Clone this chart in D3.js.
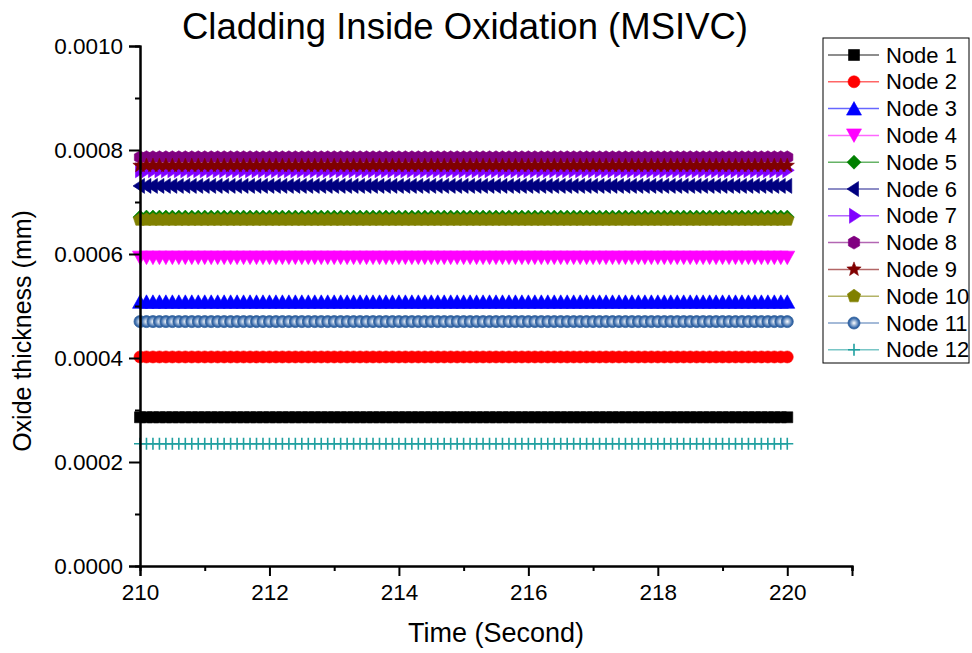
<!DOCTYPE html>
<html>
<head>
<meta charset="utf-8">
<script src="https://cdn.jsdelivr.net/npm/d3@7"></script>
<style>
  html, body { margin: 0; padding: 0; background: #fff; }
  svg { display: block; font-family: "Liberation Sans", Arial, sans-serif; }
</style>
</head>
<body>
<svg id="chart" width="972" height="653"></svg>
<script>
// Sample times (s)
const times = [
  210.0, 210.1, 210.2, 210.3, 210.4, 210.5, 210.6, 210.7, 210.8, 210.9,
  211.0, 211.1, 211.2, 211.3, 211.4, 211.5, 211.6, 211.7, 211.8, 211.9,
  212.0, 212.1, 212.2, 212.3, 212.4, 212.5, 212.6, 212.7, 212.8, 212.9,
  213.0, 213.1, 213.2, 213.3, 213.4, 213.5, 213.6, 213.7, 213.8, 213.9,
  214.0, 214.1, 214.2, 214.3, 214.4, 214.5, 214.6, 214.7, 214.8, 214.9,
  215.0, 215.1, 215.2, 215.3, 215.4, 215.5, 215.6, 215.7, 215.8, 215.9,
  216.0, 216.1, 216.2, 216.3, 216.4, 216.5, 216.6, 216.7, 216.8, 216.9,
  217.0, 217.1, 217.2, 217.3, 217.4, 217.5, 217.6, 217.7, 217.8, 217.9,
  218.0, 218.1, 218.2, 218.3, 218.4, 218.5, 218.6, 218.7, 218.8, 218.9,
  219.0, 219.1, 219.2, 219.3, 219.4, 219.5, 219.6, 219.7, 219.8, 219.9,
  220.0
];

// Node names and their inside oxide thickness (mm), flat over the interval
const nodes = ["Node 1", "Node 2", "Node 3", "Node 4", "Node 5", "Node 6",
               "Node 7", "Node 8", "Node 9", "Node 10", "Node 11", "Node 12"];
const thickness = [0.000286, 0.000402, 0.000508, 0.000593, 0.000671, 0.000731,
                   0.000761, 0.000786, 0.000770, 0.000666, 0.000470, 0.000235];

const colors = ["#000000", "#ff0000", "#0000ff", "#ff00ff", "#008000", "#000080",
                "#8000ff", "#800080", "#800000", "#808000", "#3366a8", "#20a0a0"];
const shapes = ["square", "circle", "triUp", "triDown", "diamond", "triLeft",
                "triRight", "hexagon", "star", "pentagon", "sphere", "plus"];

const xTicks = [210, 212, 214, 216, 218, 220];
const yTicks = [0.0000, 0.0002, 0.0004, 0.0006, 0.0008, 0.0010];

const svg = d3.select("#chart");
const plot = { left: 140, right: 852, top: 46, bottom: 566 };

const x = d3.scaleLinear().domain([210, 221]).range([plot.left, plot.right]);
const y = d3.scaleLinear().domain([0, 0.001]).range([plot.bottom, plot.top]);

// gradient for the shaded ball marker
const defs = svg.append("defs");
const grad = defs.append("radialGradient").attr("id", "ball")
  .attr("cx", "50%").attr("cy", "50%").attr("r", "55%");
grad.append("stop").attr("offset", "0%").attr("stop-color", "#ffffff");
grad.append("stop").attr("offset", "35%").attr("stop-color", "#9fb8d8");
grad.append("stop").attr("offset", "75%").attr("stop-color", "#3366a8");
grad.append("stop").attr("offset", "100%").attr("stop-color", "#2a5890");

// polygon helper for custom symbols
function poly(ctx, pts) {
  ctx.moveTo(pts[0][0], pts[0][1]);
  for (let i = 1; i < pts.length; i++) ctx.lineTo(pts[i][0], pts[i][1]);
  ctx.closePath();
}
function regular(n, r, rot) {
  return d3.range(n).map(i => {
    const a = rot + i * 2 * Math.PI / n;
    return [r * Math.cos(a), r * Math.sin(a)];
  });
}
const symbolTypes = {
  square:   { draw(c, s) { const h = 5.5; poly(c, [[-h,-h],[h,-h],[h,h],[-h,h]]); } },
  circle:   { draw(c, s) { c.moveTo(6, 0); c.arc(0, 0, 6, 0, 2 * Math.PI); } },
  sphere:   { draw(c, s) { c.moveTo(6, 0); c.arc(0, 0, 6, 0, 2 * Math.PI); } },
  triUp:    { draw(c, s) { poly(c, [[0,-7],[7.5,6.5],[-7.5,6.5]]); } },
  triDown:  { draw(c, s) { poly(c, [[0,7],[7.5,-6.5],[-7.5,-6.5]]); } },
  triLeft:  { draw(c, s) { poly(c, [[-7,0],[4.5,-7.5],[4.5,7.5]]); } },
  triRight: { draw(c, s) { poly(c, [[7,0],[-4.5,-7.5],[-4.5,7.5]]); } },
  diamond:  { draw(c, s) { poly(c, [[0,-7],[7,0],[0,7],[-7,0]]); } },
  hexagon:  { draw(c, s) { poly(c, regular(6, 6.5, -Math.PI / 2)); } },
  pentagon: { draw(c, s) { poly(c, regular(5, 7, -Math.PI / 2)); } },
  star:     { draw(c, s) {
      const pts = d3.range(10).map(i => {
        const r = i % 2 === 0 ? 7.5 : 3.2;
        const a = -Math.PI / 2 + i * Math.PI / 5;
        return [r * Math.cos(a), r * Math.sin(a)];
      });
      poly(c, pts);
  } },
  plus:     { draw(c, s) { c.moveTo(0, -6); c.lineTo(0, 6); c.moveTo(-6, 0); c.lineTo(6, 0); } }
};

function drawMarker(sel, i) {
  const shape = shapes[i];
  const p = sel.append("path").attr("d", d3.symbol().type(symbolTypes[shape]).size(144)());
  if (shape === "plus") {
    p.attr("fill", "none").attr("stroke", colors[i]).attr("stroke-width", 1.6);
  } else if (shape === "sphere") {
    p.attr("fill", "url(#ball)").attr("stroke", "#2e5f9c").attr("stroke-width", 0.8);
  } else {
    p.attr("fill", colors[i]).attr("stroke", colors[i]).attr("stroke-width", 0.6);
  }
  return p;
}

// series
const line = d3.line().x(d => x(d[0])).y(d => y(d[1]));
nodes.forEach((name, i) => {
  const pts = times.map(t => [t, thickness[i]]);
  const g = svg.append("g").attr("class", "series");
  g.append("path").datum(pts).attr("d", line)
    .attr("fill", "none").attr("stroke", colors[i]).attr("stroke-width", 1.5)
    .attr("stroke-opacity", 0.6);
  pts.forEach(d => {
    const m = g.append("g").attr("transform", `translate(${x(d[0])},${y(d[1])})`);
    drawMarker(m, i);
  });
});

// axes
const fmtY = d3.format(".4f");
const xAxis = d3.axisBottom(x).tickValues(xTicks).tickFormat(d3.format("d"))
  .tickSize(10).tickPadding(8);
const xMinor = d3.axisBottom(x).tickValues([211, 213, 215, 217, 219, 221])
  .tickSize(5).tickFormat("");
const yAxis = d3.axisLeft(y).tickValues(yTicks).tickFormat(fmtY)
  .tickSize(11).tickPadding(6);
const yMinor = d3.axisLeft(y).tickValues([0.0001, 0.0003, 0.0005, 0.0007, 0.0009])
  .tickSize(5).tickFormat("");

function styleAxis(g) {
  g.select(".domain").attr("stroke", "#000").attr("stroke-width", 2);
  g.selectAll(".tick line").attr("stroke", "#000").attr("stroke-width", 2);
  g.selectAll(".tick text").attr("fill", "#000").style("font-size", "22.5px")
    .style("font-family", "'Liberation Sans', Arial, sans-serif");
}

svg.append("g").attr("transform", `translate(0,${plot.bottom})`).call(xMinor).call(styleAxis);
svg.append("g").attr("transform", `translate(0,${plot.bottom})`).call(xAxis).call(styleAxis);
svg.append("g").attr("transform", `translate(${plot.left},0)`).call(yMinor).call(styleAxis);
svg.append("g").attr("transform", `translate(${plot.left},0)`).call(yAxis).call(styleAxis);

// titles
svg.append("text").attr("x", 465).attr("y", 39).attr("text-anchor", "middle")
  .style("font-size", "36.5px").text("Cladding Inside Oxidation (MSIVC)");
svg.append("text").attr("x", 496).attr("y", 642).attr("text-anchor", "middle")
  .style("font-size", "27px").text("Time (Second)");
svg.append("text").attr("transform", "translate(31,331) rotate(-90)")
  .attr("text-anchor", "middle").style("font-size", "25px").text("Oxide thickness (mm)");

// legend
const lg = svg.append("g").attr("transform", "translate(823,38)");
lg.append("rect").attr("x", 0).attr("y", 0).attr("width", 146).attr("height", 325)
  .attr("fill", "#fff").attr("stroke", "#000").attr("stroke-width", 1);
nodes.forEach((name, i) => {
  const row = lg.append("g").attr("transform", `translate(0,${17 + i * 26.8})`);
  row.append("line").attr("x1", 5).attr("x2", 56).attr("y1", 0).attr("y2", 0)
    .attr("stroke", colors[i]).attr("stroke-width", 1.5).attr("stroke-opacity", 0.6);
  drawMarker(row.append("g").attr("transform", "translate(31,0)"), i);
  row.append("text").attr("x", 63).attr("y", 7.5).style("font-size", "22px").text(name);
});
</script>
</body>
</html>
